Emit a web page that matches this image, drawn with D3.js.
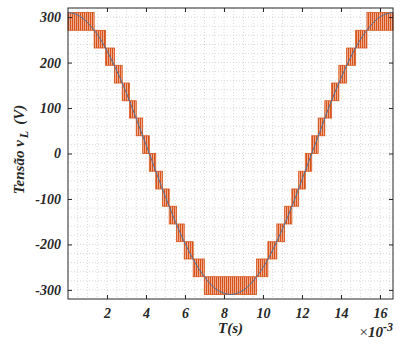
<!DOCTYPE html>
<html>
<head>
<meta charset="utf-8">
<script src="https://cdn.jsdelivr.net/npm/d3@7"></script>
<style>
  body { margin: 0; background: #fff; }
  text { font-family: "Liberation Serif", "Times New Roman", serif; font-weight: bold; font-style: italic; fill: #262626; }
</style>
</head>
<body>
<div id="chart"></div>
<script>
// time in ms, voltage in V
const tickX = [2, 4, 6, 8, 10, 12, 14, 16];
const tickY = [-300, -200, -100, 0, 100, 200, 300];

// switching bands of the multilevel output (start, end, lower level, upper level)
const bandStart = [0, 1.34, 1.92, 2.38, 2.78, 3.15, 3.50, 3.83, 4.17, 4.50, 4.84, 5.19, 5.56, 5.96, 6.42, 6.99,
  9.67, 10.25, 10.71, 11.11, 11.48, 11.83, 12.17, 12.50, 12.83, 13.17, 13.52, 13.89, 14.29, 14.75, 15.33];
const bandEnd = [1.34, 1.92, 2.38, 2.78, 3.15, 3.50, 3.83, 4.17, 4.50, 4.84, 5.19, 5.56, 5.96, 6.42, 6.99, 9.67,
  10.25, 10.71, 11.11, 11.48, 11.83, 12.17, 12.50, 12.83, 13.17, 13.52, 13.89, 14.29, 14.75, 15.33, 16.67];
const bandLow = [271, 232, 194, 155, 116, 78, 39, 0, -39, -78, -116, -155, -194, -232, -271, -310,
  -271, -232, -194, -155, -116, -78, -39, 0, 39, 78, 116, 155, 194, 232, 271];
const bandHigh = [310, 271, 232, 194, 155, 116, 78, 39, 0, -39, -78, -116, -155, -194, -232, -271,
  -232, -194, -155, -116, -78, -39, 0, 39, 78, 116, 155, 194, 232, 271, 310];

// reference voltage (thin blue line)
const refT = [0, 0.42, 0.83, 1.25, 1.67, 2.08, 2.50, 2.92, 3.33, 3.75, 4.17, 4.58, 5.00, 5.42, 5.83, 6.25, 6.67,
  7.08, 7.50, 7.92, 8.33, 8.75, 9.17, 9.58, 10.00, 10.42, 10.83, 11.25, 11.67, 12.08, 12.50, 12.92, 13.33,
  13.75, 14.17, 14.58, 15.00, 15.42, 15.83, 16.25, 16.67];
const refV = [310, 306, 295, 276, 251, 219, 182, 141, 96, 48, 0, -48, -96, -141, -182, -219, -251,
  -276, -295, -306, -310, -306, -295, -276, -251, -219, -182, -141, -96, -48, 0, 48, 96,
  141, 182, 219, 251, 276, 295, 306, 310];

const W = 405, H = 344;
const margin = {top: 8, right: 12, bottom: 45, left: 68};
const width = W - margin.left - margin.right,
  height = H - margin.top - margin.bottom;

const orange = '#d95319';

const svg = d3.select('#chart').append('svg')
  .attr('width', W)
  .attr('height', H);

const defs = svg.append('defs');
const pat = defs.append('pattern')
  .attr('id', 'stripes')
  .attr('patternUnits', 'userSpaceOnUse')
  .attr('width', 2)
  .attr('height', 10);
pat.append('rect').attr('width', 2).attr('height', 10).attr('fill', orange).attr('opacity', 0.35);
pat.append('rect').attr('width', 1.2).attr('height', 10).attr('fill', orange);

const g = svg.append('g')
  .attr('transform', `translate(${margin.left},${margin.top})`);

const x = d3.scaleLinear().domain([0, 16.667]).range([0, width]);
const y = d3.scaleLinear().domain([-320, 320]).range([height, 0]);

// grid (major + minor, dotted)
const gridX = d3.range(0.5, 16.6, 0.5);
const gridY = d3.range(-300, 301, 20);
g.append('g').selectAll('line').data(gridX).enter().append('line')
  .attr('x1', d => x(d)).attr('x2', d => x(d))
  .attr('y1', 0).attr('y2', height)
  .attr('stroke', '#c8c8c8').attr('stroke-width', 0.7)
  .attr('stroke-dasharray', '1,2');
g.append('g').selectAll('line').data(gridY).enter().append('line')
  .attr('x1', 0).attr('x2', width)
  .attr('y1', d => y(d)).attr('y2', d => y(d))
  .attr('stroke', '#c8c8c8').attr('stroke-width', 0.7)
  .attr('stroke-dasharray', '1,2');

// switching bands
g.append('g').selectAll('rect').data(bandStart).enter().append('rect')
  .attr('x', (d, i) => x(d))
  .attr('width', (d, i) => x(bandEnd[i]) - x(d))
  .attr('y', (d, i) => y(bandHigh[i]))
  .attr('height', (d, i) => y(bandLow[i]) - y(bandHigh[i]))
  .attr('fill', 'url(#stripes)')
  .attr('stroke', orange)
  .attr('stroke-width', 0.8);

// reference line
const line = d3.line()
  .x((d, i) => x(refT[i]))
  .y(d => y(d))
  .curve(d3.curveMonotoneX);
g.append('path')
  .attr('d', line(refV))
  .attr('fill', 'none')
  .attr('stroke', '#4a74a0')
  .attr('stroke-width', 1);

// axes
const xAxis = d3.axisBottom(x).tickValues(tickX).tickFormat(d => String(d)).tickSizeInner(-4).tickSizeOuter(0).tickPadding(9);
const yAxis = d3.axisLeft(y).tickValues(tickY).tickFormat(d => String(d)).tickSizeInner(-4).tickSizeOuter(0).tickPadding(7);
const xTop = d3.axisTop(x).tickValues(tickX).tickFormat('').tickSizeInner(-4).tickSizeOuter(0);
const yRight = d3.axisRight(y).tickValues(tickY).tickFormat('').tickSizeInner(-4).tickSizeOuter(0);

const styleAxis = sel => {
  sel.select('.domain').remove();
  sel.selectAll('.tick line').attr('stroke', '#262626');
  sel.selectAll('.tick text')
    .style('font-family', '"Liberation Serif", serif')
    .style('font-size', '14px')
    .style('font-weight', 'bold')
    .style('font-style', 'italic')
    .attr('fill', '#262626');
};

g.append('g').attr('transform', `translate(0,${height})`).call(xAxis).call(styleAxis);
g.append('g').call(yAxis).call(styleAxis);
g.append('g').call(xTop).call(styleAxis);
g.append('g').attr('transform', `translate(${width},0)`).call(yRight).call(styleAxis);

// frame
g.append('rect')
  .attr('width', width).attr('height', height)
  .attr('fill', 'none')
  .attr('stroke', '#262626')
  .attr('stroke-width', 1);

// labels
g.append('text')
  .attr('x', width / 2)
  .attr('y', height + 34)
  .attr('text-anchor', 'middle')
  .style('font-size', '15px')
  .text('T(s)');

const exp = g.append('text')
  .attr('x', width)
  .attr('y', height + 38)
  .attr('text-anchor', 'end')
  .style('font-size', '15px');
exp.append('tspan').style('font-style', 'normal').style('font-weight', 'normal').text('×');
exp.append('tspan').text('10');
exp.append('tspan').attr('dy', -6).style('font-size', '12px').text('-3');

const yl = svg.append('text')
  .attr('transform', `translate(24,${margin.top + height / 2 - 4}) rotate(-90)`)
  .attr('text-anchor', 'middle')
  .style('font-size', '15px');
yl.append('tspan').text('Tensão v');
yl.append('tspan').attr('dy', 4).attr('dx', 2).style('font-size', '12px').text('L');
yl.append('tspan').attr('dy', -4).attr('dx', 6).text('(V)');
</script>
</body>
</html>
